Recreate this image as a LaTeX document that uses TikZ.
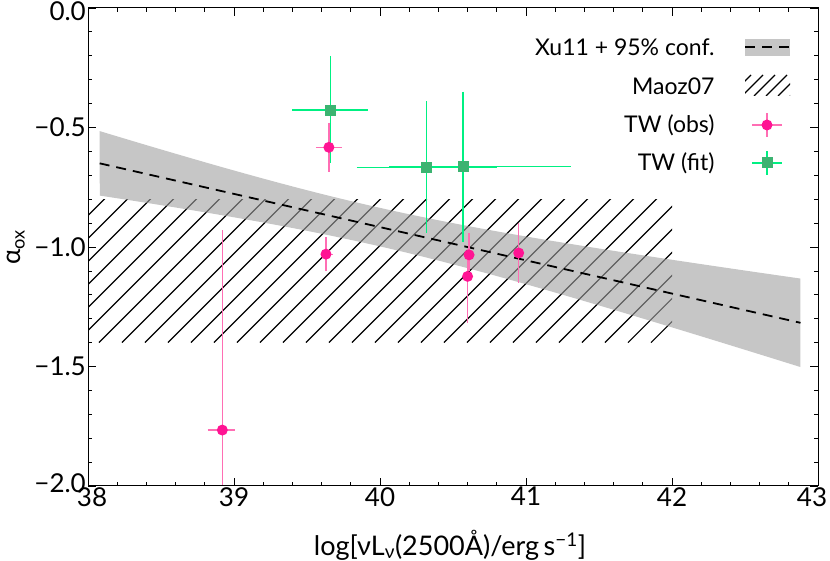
\documentclass[tikz,border=0pt]{standalone}
\usepackage{fontspec}
\setmainfont{Lato}
\definecolor{pk}{RGB}{255,20,147}
\definecolor{pkerr}{RGB}{255,110,180}
\definecolor{gn}{RGB}{60,179,113}
\definecolor{gnerr}{RGB}{0,240,130}
\definecolor{band}{RGB}{160,160,160}
\tikzset{
  pkbar/.style={pkerr,line width=1.3pt},
  gnbar/.style={gnerr,line width=1.5pt},
  dot/.style={circle,fill=pk,inner sep=0pt,minimum size=11pt},
  sq/.style={rectangle,fill=gn,inner sep=0pt,minimum size=11pt},
  lbl/.style={font=\fontsize{26}{28}\selectfont},
  leg/.style={font=\fontsize{23}{25}\selectfont},
  fitline/.style={black,line width=1.8pt,dash pattern=on 10pt off 7pt}
}
\begin{document}
\begin{tikzpicture}[x=1pt,y=1pt]
\useasboundingbox (0,0) rectangle (830,561);
% hatch region (pixel coords)
\begin{scope}
\clip (88,{553-0.8*239}) rectangle (672,{553-1.4*239});
\foreach \i in {0,...,40}{\draw[black,line width=1.2pt] ({-200+\i*23},{553-1.4*239}) -- ++(150,150);}
\end{scope}
\begin{scope}[shift={(88pt,553pt)},x=146pt,y=239pt]
\fill[band,opacity=0.6] plot[domain=0.08:4.88,samples=40] (\x,{-0.65-0.139*(\x-0.08)+sqrt(0.0065+0.00328*(\x-1.97)^2)})
 -- plot[domain=4.88:0.08,samples=40] (\x,{-0.65-0.139*(\x-0.08)-sqrt(0.0065+0.00328*(\x-1.97)^2)}) -- cycle;
\coordinate (l1) at (0.08,-0.65); \coordinate (l2) at (4.88,{-0.65-0.139*4.8});
\draw[fitline] (l1) -- (l2);
% green
\foreach \x/\y/\xa/\xb/\ya/\yb in {1.66/-0.427/1.40/1.92/-0.20/-0.65, 2.32/-0.667/1.84/2.80/-0.39/-0.94, 2.57/-0.664/2.06/3.31/-0.35/-0.98}{
  \draw[gnbar] (\xa,\y) -- (\xb,\y); \draw[gnbar] (\x,\ya) -- (\x,\yb);}
% pink
\foreach \x/\y/\xa/\xb/\ya/\yb in {1.65/-0.583/1.56/1.74/-0.48/-0.685, 1.63/-1.03/1.60/1.68/-0.96/-1.10, 2.61/-1.033/2.58/2.64/-0.94/-1.10, 2.60/-1.123/2.58/2.62/-1.01/-1.32, 2.95/-1.025/2.93/2.97/-0.90/-1.15, 0.92/-1.766/0.82/1.01/-0.93/-2.0}{
  \draw[pkbar] (\xa,\y) -- (\xb,\y); \draw[pkbar] (\x,\ya) -- (\x,\yb);}
\foreach \x/\y/\n in {1.66/-0.427/g1, 2.32/-0.667/g2, 2.57/-0.664/g3}{\node[sq] (\n) at (\x,\y) {};}
\foreach \x/\y/\n in {1.65/-0.583/p1, 1.63/-1.03/p2, 2.61/-1.033/p3, 2.60/-1.123/p4, 2.95/-1.025/p5, 0.92/-1.766/p6}{\node[dot] (\n) at (\x,\y) {};}
% axes frame
\draw[black,line width=1pt] (0,0) rectangle (5,-2);
\foreach \t in {0,1,...,25}{\draw[line width=0.8pt] (\t*0.2,-2) -- ++(0,4pt); \draw[line width=0.8pt] (\t*0.2,0) -- ++(0,-4pt);}
\foreach \t in {0,...,5}{\draw[line width=0.8pt] (\t,-2) -- ++(0,8pt); \draw[line width=0.8pt] (\t,0) -- ++(0,-8pt);}
\foreach \t in {0,...,20}{\draw[line width=0.8pt] (0,-\t*0.1) -- ++(4pt,0); \draw[line width=0.8pt] (5,-\t*0.1) -- ++(-4pt,0);}
\foreach \t in {0,...,4}{\draw[line width=0.8pt] (0,-\t*0.5) -- ++(8pt,0); \draw[line width=0.8pt] (5,-\t*0.5) -- ++(-8pt,0);}
\foreach \t/\s/\xs in {0/38/4,1/39/0,2/40/0,3/41/0,4/42/0,5/43/-6}{\node[lbl,anchor=north,inner sep=1pt,xshift=\xs pt] (xt\s) at (\t,-2) {\s};}
\foreach \t/\s/\ys in {0/0.0/-3,-0.5/−0.5/0,-1/−1.0/0,-1.5/−1.5/0,-2/−2.0/3}{\node[lbl,anchor=east,inner sep=2pt,yshift=\ys pt] (yt) at (0,\t) {\s};}
\end{scope}
\node[lbl,anchor=center,font=\fontsize{27}{29}\selectfont] (xlab) at (450,16) {log[νL\textsubscript{ν}(2500Å)/erg\,s\textsuperscript{−1}]};
\node[lbl,rotate=90] (ylab) at (16,314) {α\textsubscript{ox}};
% legend
\node[leg,anchor=east] (t1) at (718,514) {Xu11 + 95\% conf.};
\node[leg,anchor=east] (t2) at (718,475) {Maoz07};
\node[leg,anchor=east] (t3) at (718,436) {TW (obs)};
\node[leg,anchor=east] (t4) at (718,398) {TW (fit)};
\fill[band,opacity=0.6] (745,505) rectangle (790,522);
\coordinate (d1) at (745,514); \coordinate (d2) at (790,514);
\draw[fitline] (d1) -- (d2);
\begin{scope}
\clip (745,465) rectangle (790,486);
\foreach \i in {0,...,6}{\draw[black,line width=1.2pt] ({718+\i*12},465) -- ++(21,21);}
\end{scope}
\draw[pkbar] (752,436) -- (782,436); \draw[pkbar] (767,424) -- (767,448);
\node[dot] (lp) at (767,436) {};
\draw[gnbar] (752,398) -- (782,398); \draw[gnbar] (767,386) -- (767,410);
\node[sq] (lg) at (767,398) {};
\end{tikzpicture}
\end{document}
